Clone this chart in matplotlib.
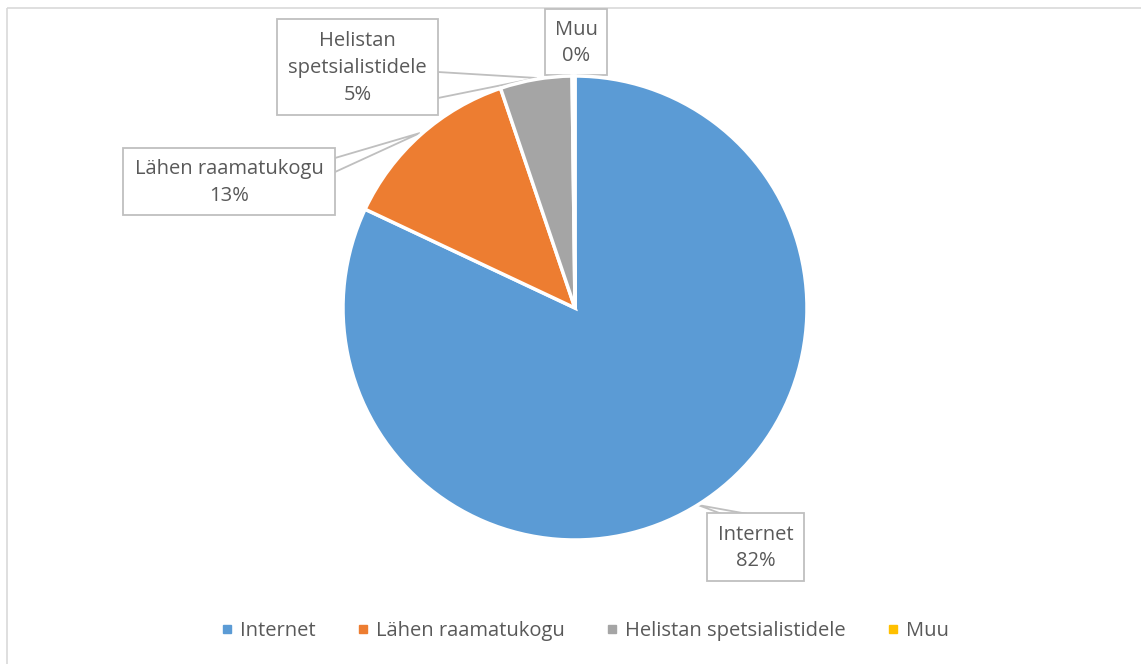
import matplotlib.pyplot as plt
from matplotlib.patches import Rectangle, Polygon

# Data
labels = ['Internet', 'Lähen raamatukogu', 'Helistan spetsialistidele', 'Muu']
values = [82.0, 12.8, 5.0, 0.2]
colors = ['#5B9BD5', '#ED7D31', '#A5A5A5', '#FFC000']
callout_text = ['Internet', 'Lähen raamatukogu', 'Helistan\nspetsialistidele', 'Muu']

W, H = 1141, 664
fig = plt.figure(figsize=(W / 100, H / 100), dpi=100)
ax = fig.add_axes([0, 0, 1, 1])
ax.set_xlim(0, W)
ax.set_ylim(H, 0)
ax.axis('off')

# chart border (only top/left visible)
ax.add_patch(Rectangle((7, 8), 1150, 670, fill=False, ec='#D9D9D9', lw=1.2))

# pie drawn in its own axes so directions stay normal
cx, cy, r = 575, 308, 232
pax = fig.add_axes([(cx - r) / W, 1 - (cy + r) / H, 2 * r / W, 2 * r / H])
pax.pie(values, colors=colors, startangle=90, counterclock=False,
        wedgeprops=dict(edgecolor='white', linewidth=2.5))
pax.set_aspect('equal')
pax.set_xlim(-1, 1)
pax.set_ylim(-1, 1)
pax.axis('off')

txt = '#595959'
font = 'Open Sans'

# callouts: box (x0, y0, x1, y1), pointer base points, tip
boxes = [
    ((707, 513, 804, 581), [(722, 514), (748, 514)], (698, 505)),
    ((123, 148, 335, 215), [(335, 158), (335, 172)], (420, 133)),
    ((277, 19, 438, 115), [(438, 72), (438, 98)], (537, 78)),
    ((545, 9, 607, 75), [(560, 75), (590, 75)], (575, 76)),
]
pcts = [f'{round(v):d}%' for v in values]
for (b, base, tip), t, p in zip(boxes, callout_text, pcts):
    x0, y0, x1, y1 = b
    ax.add_patch(Polygon([base[0], tip, base[1]], closed=True, fc='white',
                         ec='#BFBFBF', lw=1.3, zorder=3))
    ax.add_patch(Rectangle((x0, y0), x1 - x0, y1 - y0, fc='white',
                           ec='#BFBFBF', lw=1.3, zorder=4))
    ax.text((x0 + x1) / 2, (y0 + y1) / 2 + 1, t + '\n' + p, ha='center',
            va='center', color=txt, fontsize=14.5, family=font,
            linespacing=1.45, zorder=5)

# legend
handles = [plt.Line2D([], [], marker='s', ls='', color=c, markersize=6)
           for c in colors]
fig.legend(handles, labels, loc='center', bbox_to_anchor=(582 / W, 1 - 631 / H),
           ncol=4, frameon=False, handletextpad=0.05, columnspacing=1.75,
           handlelength=1.2, prop=dict(family=font, size=14.5), labelcolor=txt)

fig.savefig('out.png', dpi=100, facecolor='white')
